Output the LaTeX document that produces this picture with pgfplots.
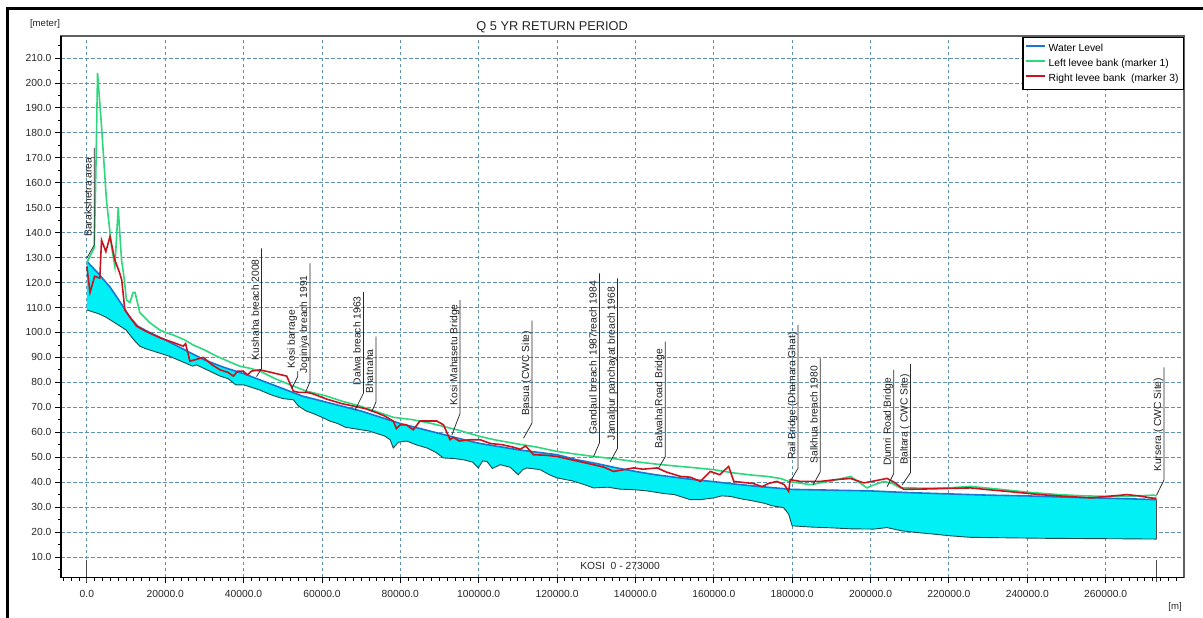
\documentclass[border=0pt]{standalone}
\usepackage{pgfplots}
\pgfplotsset{compat=1.18}
\usepackage{pgfplotstable}
\usepgfplotslibrary{fillbetween}
\usepackage{fontspec}
\setmainfont{Liberation Sans}
\setsansfont{Liberation Sans}

\definecolor{gridc}{RGB}{95,145,175}
\definecolor{wblue}{RGB}{25,118,210}
\definecolor{lgreen}{RGB}{45,215,125}
\definecolor{rred}{RGB}{200,20,30}
\definecolor{cyanf}{RGB}{0,240,245}
\definecolor{bedc}{RGB}{25,75,75}
\definecolor{annc}{RGB}{40,40,40}

\pgfplotstableread{
x y
0 128.5
3000 123.5
6000 118
9000 111
11000 106
13000 102.5
16000 100
20000 97
25000 93
30000 89
35000 86
40000 83.5
45000 80.5
50000 77.5
55000 74.5
60000 72.5
65000 70.5
70000 68.5
75000 66
80000 63.5
85000 61.5
90000 59.5
95000 57.5
100000 55.6
105000 54.3
110000 53
115000 52
120000 51
125000 49
130000 47.5
135000 45.8
140000 44.3
145000 43
150000 42
155000 41
160000 40.2
165000 39.3
170000 38.5
175000 37.8
180000 37.1
190000 36.8
200000 36.5
210000 35.8
220000 35.3
230000 34.8
240000 34.5
250000 34
260000 33.6
273000 33
}\watertab

\pgfplotstableread{
x y
0 109
1000 108.5
3000 107.5
5000 106
7000 104
10000 101
12000 97
13500 94.5
15000 93.5
18000 92
21000 90.5
24000 88.5
27000 86.5
28000 87
30000 85.5
32000 84
34000 82.5
36000 81.5
38000 79
40000 79
42000 78
44000 77
47000 75
50000 73.5
52700 73
54000 70.5
56000 68.5
57800 67.5
60000 66
62000 64.5
64000 63.5
66000 62
68000 61.5
70000 61
72000 60.5
74000 59.5
76000 58.5
77400 57
78200 53.7
79500 56
81600 56.5
84000 55
86800 53.7
89000 52
91000 49.7
93500 49.5
96100 49
98500 48
99900 45.7
101000 48.5
102100 48.3
103500 45.5
105500 47
108000 46
110100 43
111200 45
112300 45.7
115700 45
118000 43
120000 41.7
124000 40.5
127000 39
129300 37.7
133000 38
136000 37.2
139500 37
143000 36.5
147000 35.5
150000 35
152000 34
154000 33
156600 33
160000 33.7
162000 34.5
164200 34.3
167000 33.3
170000 32.5
173000 31.5
175000 30.5
177800 29.8
179100 27.2
180000 22.5
185000 22
190000 21.7
195000 21.3
200800 21.2
204200 21.8
208000 20.5
212000 19.8
216000 19.2
220400 18.5
225500 17.9
235000 17.7
245000 17.5
255000 17.4
265000 17.3
273000 17.2
}\bedtab

\pgfplotstableread{
x y
0 128
1900 134
2300 165
2730 204
3100 196
3750 182.5
5000 153
6300 134.4
7150 126.4
8000 149.8
8850 129
9500 122
10100 113
11000 112
11800 116
12300 116
13500 108
16000 104
18600 101
20000 100
22000 99
25000 97
27100 95
30000 93
33100 90.5
36000 88.5
39000 86.5
42000 85.5
44200 84.5
48000 81.5
52700 78.5
56000 76.5
61200 74.5
65000 72.5
69700 70.5
74800 67.8
78200 66
83300 65
88000 63.5
94400 61
100400 58.3
104000 57
108900 55.6
115000 54
120000 52.3
125000 51.2
129300 50.3
135000 49.3
139500 48.3
145000 47.3
150000 46.5
155000 45.8
160000 45
165100 43.7
170000 42.8
173600 42.3
177000 41.5
179100 40.3
184700 39
190000 40.5
194900 42.3
197000 40
199100 37.7
201000 39
203400 40.3
205500 39.5
207600 37.7
215000 37.6
220000 37.7
225500 38.3
232000 37.3
240000 36
248000 35
255000 34.5
260400 34.3
265000 34.3
272300 34.8
273000 34.5
}\lefttab

\pgfplotstableread{
x y
0 126.5
800 116
2000 122.5
3300 121.8
3750 137
4850 132.4
5900 138.4
7150 129
8400 123.7
8900 121
9700 109
12700 102.5
15000 100.5
18600 97.9
22000 96
24600 94.5
25200 95.5
26300 88.5
27500 89
29700 90
32000 87
34000 85
36000 84
37400 82.5
38500 84.5
39900 84.5
41000 83
42000 84.5
44200 85
47000 84
51000 82.5
52700 76.5
54000 76
56100 76
57500 75.5
61200 73.3
65000 71.5
68000 70.5
71000 69.5
74000 67.8
76000 66.5
78200 64.5
79000 61.5
80000 63
81500 63
83300 61
85000 64.5
89300 64.5
91000 63
92700 57
93500 58
95000 56.5
97800 57
100400 57
103000 55.5
106000 55
108900 54
110600 53.2
112000 54.5
114000 51
117000 50.8
120000 50.3
125000 48.5
129300 47
132000 46
134400 44.3
137000 45
139500 45.7
142000 45.2
145500 45.7
148000 44
151500 42.3
154000 42
156600 40.3
159100 44.3
161500 43
163800 46.3
165100 40.3
168000 39.8
170000 39.5
172300 38.2
174000 39.5
176100 40.3
178000 39
179100 36.3
179500 41
182100 40.3
187200 40.3
191000 41
194900 41.5
198300 39.7
201000 40.5
204200 41.5
206000 40
208500 37.1
215000 37.3
220000 37.5
225500 37.7
230000 37
234900 36.3
243400 35
250000 34.3
256200 33.7
260400 34.3
265500 35
268500 34.5
271500 33.7
273000 33.5
}\righttab

\newcommand{\annot}[6]{%
  \draw[annc, line width=0.75pt] (axis cs:#1,#2) -- (axis cs:#3,#4) -- (axis cs:#3,#5);
  \node[rotate=90, anchor=base west, inner sep=0pt, text=black!88,
        font=\fontsize{10.3}{12}\selectfont]
        at ([xshift=-2.8pt,yshift=8pt]axis cs:#3,#4) {#6};%
}

\begin{document}
\begin{tikzpicture}
\begin{axis}[
  at={(61pt,40.5pt)}, anchor=south west,
  scale only axis, width=1123pt, height=541.5pt,
  xmin=-6600, xmax=280000, ymin=1.8, ymax=218.8,
  clip=false,
  scaled x ticks=false, scaled y ticks=false,
  xtick={0,20000,40000,60000,80000,100000,120000,140000,160000,180000,200000,220000,240000,260000},
  ytick={10,20,...,210},
  minor xtick={-6000,-4000,-2000,0,2000,4000,6000,8000,10000,12000,14000,16000,18000,20000,22000,24000,26000,28000,30000,32000,34000,36000,38000,40000,42000,44000,46000,48000,50000,52000,54000,56000,58000,60000,62000,64000,66000,68000,70000,72000,74000,76000,78000,80000,82000,84000,86000,88000,90000,92000,94000,96000,98000,100000,102000,104000,106000,108000,110000,112000,114000,116000,118000,120000,122000,124000,126000,128000,130000,132000,134000,136000,138000,140000,142000,144000,146000,148000,150000,152000,154000,156000,158000,160000,162000,164000,166000,168000,170000,172000,174000,176000,178000,180000,182000,184000,186000,188000,190000,192000,194000,196000,198000,200000,202000,204000,206000,208000,210000,212000,214000,216000,218000,220000,222000,224000,226000,228000,230000,232000,234000,236000,238000,240000,242000,244000,246000,248000,250000,252000,254000,256000,258000,260000,262000,264000,266000,268000,270000,272000,274000,276000,278000},
  minor ytick={5,15,...,215},
  tick align=outside, tick pos=left,
  major tick length=6pt, minor tick length=3.5pt,
  every tick/.style={black, line width=0.8pt},
  grid=major,
  major grid style={gridc, line width=0.8pt, dash pattern=on 3.5pt off 2.5pt},
  axis line style={draw=gray!75!black, line width=1.4pt},
  /pgf/number format/assume math mode=true,
  /pgf/number format/fixed,
  /pgf/number format/fixed zerofill,
  /pgf/number format/precision=1,
  /pgf/number format/1000 sep={},
  xticklabel style={yshift=-3pt},
  tick label style={font=\fontsize{10.3}{12}\selectfont, text=black!85},
  legend style={at={(1,1)}, anchor=north east, yshift=-1.2pt, draw=black, line width=1.3pt, fill=white,
     inner xsep=2.2pt, inner ysep=3.2pt, font=\fontsize{10.3}{12}\selectfont,
     nodes={inner sep=2.5pt, text height=7.5pt, text depth=2.5pt}, row sep=0pt},
  legend cell align=left,
  legend image code/.code={\draw[#1, line width=2pt] (0pt,2.6pt) -- (19pt,2.6pt);},
]
\addplot[name path=bedp, draw=none, forget plot] table[x=x,y=y] {\bedtab};
\addplot[name path=waterp, draw=none, forget plot] table[x=x,y=y] {\watertab};
\addplot[fill=cyanf, draw=none, forget plot] fill between[of=waterp and bedp];
\addplot[draw=bedc, line width=0.9pt, forget plot] table[x=x,y=y] {\bedtab};
\draw[gray!60!black, line width=0.6pt] (axis cs:273000,17.2) -- (axis cs:273000,33);
\addplot[draw=wblue, line width=1.6pt] table[x=x,y=y] {\watertab};
\addlegendentry{Water Level}
\addplot[draw=lgreen, line width=1.6pt] table[x=x,y=y] {\lefttab};
\addlegendentry{Left levee bank (marker 1)}
\addplot[draw=rred, line width=1.6pt] table[x=x,y=y] {\righttab};
\addlegendentry{Right levee bank~ (marker 3)}

\draw[gray!60!black, line width=1pt] (axis cs:0,8.8) -- ([yshift=-5pt]axis cs:0,1.8);
\draw[gray!60!black, line width=1pt] (axis cs:273000,8.8) -- ([yshift=-5pt]axis cs:273000,1.8);
\draw[black, line width=1.4pt] (rel axis cs:0,1) -- (rel axis cs:0,0) -- (rel axis cs:1,0);

\annot{0}{129.8}{1900}{135.1}{173.9}{Barakshetra area}
\annot{43300}{82.3}{44600}{85.6}{133.7}{Kushaha breach 2008}
\annot{52300}{77.6}{53800}{82.3}{84.5}{Kosi barrage}
\annot{55700}{75.6}{56950}{80.3}{127.7}{Joginiya breach 1991}
\annot{68450}{68.9}{70570}{75.6}{116.3}{Dalwa breach 1963}
\annot{72700}{68.2}{73800}{72.2}{98.3}{Bhatnaha}
\annot{93150}{58.9}{95260}{67.6}{113}{Kosi Mahasetu Bridge}
\annot{111430}{57.6}{113580}{63.6}{104.7}{Basua (CWC Site)}
\annot{129300}{50.2}{130840}{55.8}{123.7}{Gandaul breach~ 1987reach 1984}
\annot{133570}{48.2}{135440}{53.6}{121.7}{Jamalpur panchayat breach 1968}
\annot{145900}{45.6}{147620}{50.2}{96.3}{Balwaha Road Bridge}
\annot{179720}{40.9}{181510}{45.6}{103}{Rail Bridge (Dhamara Ghat)}
\annot{185340}{38.9}{187200}{44.2}{89.6}{Salkhua breach 1980}
\annot{204240}{38.2}{205930}{43.5}{85}{Dumri Road Bridge}
\annot{208070}{38.9}{210200}{43.8}{87.4}{Baltara ( CWC Site)}
\annot{273000}{34.8}{274890}{40.9}{86}{Kursera ( CWC Site)}

\node[font=\fontsize{10.3}{12}\selectfont, text=black!85] at (axis cs:136100,6.4) {KOSI~ 0 - 273000};
\end{axis}
\draw[black, line width=2.7pt] (7.5pt,0pt) -- (7.5pt,609.3pt) -- (1203pt,609.3pt);
\node[font=\fontsize{12.8}{14}\selectfont, text=black!85] at (552.2pt,590.3pt) {Q 5 YR RETURN PERIOD};
\node[font=\fontsize{9.6}{11}\selectfont, text=black!85] at (45pt,594pt) {[meter]};
\node[font=\fontsize{9.6}{11}\selectfont, text=black!85] at (1175pt,11.3pt) {[m]};
\pgfresetboundingbox
\useasboundingbox (0pt,0pt) rectangle (1203pt,618pt);
\end{tikzpicture}
\end{document}
